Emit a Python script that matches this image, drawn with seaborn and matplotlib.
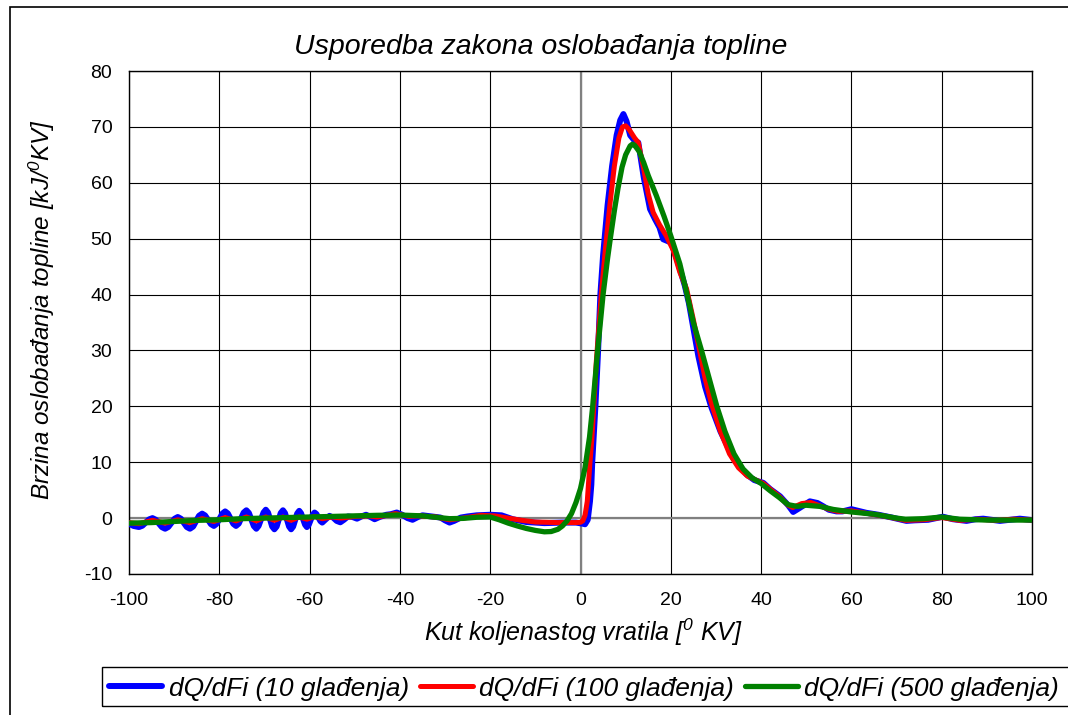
"""
Usporedba zakona oslobadjanja topline za tri razine gladjenja.
"""

import matplotlib

matplotlib.use("Agg")

import matplotlib.pyplot as plt
import pandas as pd
import seaborn as sns
from matplotlib.patches import Rectangle

# dQ/dFi, 10 gladjenja (plava)
kut_10 = [
    -100.0, -99.0, -97.8, -97.05, -96.3, -95.55, -94.8, -94.1, -93.4, -92.7,
    -92.0, -91.3, -90.6, -89.9, -89.2, -88.5, -87.85, -87.2, -86.5, -85.8,
    -85.15, -84.5, -83.8, -83.15, -82.5, -81.85, -81.2, -80.6, -79.95, -79.3,
    -78.7, -78.1, -77.5, -76.9, -76.3, -75.7, -75.15, -74.6, -74.0, -73.45,
    -72.9, -72.35, -71.8, -71.3, -70.75, -70.2, -69.7, -69.2, -68.75, -68.3,
    -67.8, -67.3, -66.85, -66.4, -65.9, -65.45, -65.0, -64.55, -64.1, -63.65,
    -63.2, -62.75, -62.3, -61.9, -61.45, -61.0, -60.6, -60.2, -59.75, -59.3,
    -58.9, -58.5, -58.05, -57.6, -57.2, -56.4, -55.6, -54.8, -54.0, -53.2,
    -52.4, -51.5, -50.5, -49.5, -48.5, -47.5, -46.5, -45.6, -44.5, -43.0,
    -42.0, -40.7, -39.5, -38.3, -37.2, -36.0, -35.0, -33.0, -31.0, -30.0,
    -29.0, -28.0, -26.5, -25.0, -23.0, -20.0, -17.5, -15.0, -12.0, -8.0,
    -4.0, -1.0, 0.5, 1.0, 1.6, 2.1, 2.4, 2.6, 3.3, 3.9,
    4.4, 5.0, 6.0, 7.0, 8.0, 8.8, 9.5, 10.2, 11.0, 12.0,
    12.8, 14.0, 15.4, 16.5, 17.5, 18.3, 20.1, 21.5, 23.1, 24.0,
    25.0, 26.1, 27.6, 29.0, 31.0, 33.8, 36.8, 38.5, 40.5, 42.0,
    44.2, 46.0, 47.1, 48.5, 50.8, 52.5, 53.8, 55.0, 56.7, 58.0,
    60.0, 61.5, 63.3, 66.0, 69.0, 72.2, 74.0, 77.0, 80.3, 82.5,
    85.5, 87.5, 89.2, 91.0, 92.9, 95.0, 97.3, 100.0,
]
dq_10 = [
    -1.0, -1.4, -1.6, -1.37, -0.8, -0.23, 0.0, -0.28, -0.95, -1.62,
    -1.9, -1.59, -0.85, -0.11, 0.2, -0.11, -0.85, -1.59, -1.9, -1.51,
    -0.55, 0.41, 0.8, 0.48, -0.3, -1.08, -1.4, -1.02, -0.1, 0.82,
    1.2, 0.82, -0.1, -1.02, -1.4, -0.99, 0.0, 0.99, 1.4, 0.92,
    -0.25, -1.42, -1.9, -1.4, -0.2, 1.0, 1.5, 0.99, -0.25, -1.49,
    -2.0, -1.5, -0.3, 0.9, 1.4, 0.9, -0.3, -1.5, -2.0, -1.52,
    -0.35, 0.82, 1.3, 0.88, -0.15, -1.18, -1.6, -1.22, -0.3, 0.62,
    1.0, 0.74, 0.1, -0.54, -0.8, -0.2, 0.4, 0.1, -0.5, -0.75,
    -0.3, 0.3, 0.2, -0.1, 0.3, 0.6, 0.2, -0.2, 0.2, 0.6,
    0.7, 1.0, 0.6, 0.0, -0.3, 0.2, 0.5, 0.3, 0.1, -0.4,
    -0.8, -0.5, 0.1, 0.3, 0.5, 0.6, 0.5, -0.2, -0.7, -0.9,
    -0.8, -0.8, -1.0, -1.1, -0.3, 3.0, 6.0, 10.0, 20.0, 30.0,
    40.0, 47.0, 56.0, 63.0, 68.5, 71.2, 72.3, 71.0, 68.5, 67.5,
    67.2, 61.0, 55.3, 53.5, 52.0, 49.9, 49.3, 46.0, 41.6, 38.5,
    34.0, 29.0, 23.5, 19.8, 15.5, 10.8, 7.8, 6.8, 6.3, 5.2,
    3.9, 2.3, 1.1, 1.8, 3.0, 2.7, 2.1, 1.5, 1.2, 1.2,
    1.6, 1.3, 0.95, 0.6, 0.1, -0.5, -0.4, -0.3, 0.25, -0.2,
    -0.5, -0.2, -0.1, -0.3, -0.5, -0.3, -0.1, -0.35,
]

# dQ/dFi, 100 gladjenja (crvena)
kut_100 = [
    -100.0, -97.8, -94.8, -92.0, -89.2, -86.5, -83.8, -81.2, -78.7, -76.3,
    -74.0, -71.8, -69.7, -67.8, -65.9, -64.1, -62.3, -60.6, -58.9, -57.2,
    -55.0, -53.0, -50.0, -47.0, -45.0, -41.0, -38.0, -36.0, -32.0, -29.0,
    -26.0, -22.0, -19.0, -16.0, -13.0, -10.0, -5.0, -1.0, 0.0, 0.5,
    1.0, 1.5, 2.1, 2.5, 2.95, 3.5, 4.6, 5.5, 6.5, 7.5,
    8.5, 9.3, 10.0, 10.8, 12.0, 12.8, 14.0, 15.0, 16.1, 17.5,
    19.0, 20.5, 22.0, 23.5, 25.0, 26.0, 27.6, 29.0, 31.0, 33.0,
    35.0, 37.0, 40.5, 42.0, 44.0, 46.0, 47.0, 49.0, 51.0, 53.0,
    55.0, 57.0, 60.0, 63.0, 67.0, 72.0, 76.0, 80.0, 84.0, 88.0,
    92.0, 96.0, 100.0,
]
dq_100 = [
    -0.8, -1.0, -0.4, -0.9, -0.3, -0.8, -0.1, -0.6, 0.1, -0.5,
    0.2, -0.5, 0.2, -0.4, 0.2, -0.4, 0.2, -0.2, 0.3, -0.1,
    0.2, 0.0, 0.3, 0.4, 0.2, 0.8, 0.3, 0.4, 0.2, -0.3,
    0.0, 0.5, 0.4, 0.0, -0.4, -0.7, -0.8, -0.8, -0.75, -0.5,
    0.5, 3.0, 10.0, 14.0, 20.0, 28.0, 40.0, 48.0, 56.0, 63.0,
    68.0, 70.0, 70.2, 69.5, 68.0, 67.2, 62.5, 58.0, 54.7, 52.5,
    50.5, 48.0, 44.0, 41.0, 35.5, 31.5, 25.0, 20.5, 15.5, 11.5,
    9.0, 7.5, 6.2, 5.2, 3.9, 2.3, 1.9, 2.6, 2.8, 2.2,
    1.6, 1.2, 1.3, 0.9, 0.4, -0.4, -0.3, 0.1, -0.4, -0.2,
    -0.4, -0.2, -0.35,
]

# dQ/dFi, 500 gladjenja (zelena)
kut_500 = [
    -100.0, -95.0, -90.0, -85.0, -80.0, -75.0, -70.0, -65.0, -60.0, -55.0,
    -50.0, -45.0, -40.0, -35.0, -32.0, -29.0, -26.0, -23.0, -20.0, -18.0,
    -16.0, -14.0, -12.0, -10.0, -8.0, -6.5, -5.0, -4.0, -3.0, -2.0,
    -1.0, 0.0, 1.0, 2.0, 2.7, 3.8, 5.0, 6.0, 6.6, 7.5,
    8.3, 9.2, 10.0, 11.0, 11.5, 12.0, 13.0, 14.0, 15.0, 16.8,
    18.5, 20.0, 22.0, 23.6, 25.0, 26.8, 28.5, 30.2, 32.0, 34.0,
    36.0, 38.0, 40.0, 42.0, 44.0, 46.0, 48.0, 50.0, 53.0, 56.0,
    60.0, 65.0, 70.0, 72.0, 76.0, 80.0, 84.0, 90.0, 100.0,
]
dq_500 = [
    -0.9, -0.8, -0.6, -0.4, -0.3, -0.1, 0.0, 0.1, 0.2, 0.3,
    0.4, 0.5, 0.55, 0.4, 0.15, -0.1, -0.05, 0.15, 0.2, -0.3,
    -0.9, -1.4, -1.85, -2.2, -2.45, -2.4, -2.0, -1.4, -0.5, 0.8,
    2.8, 5.3, 9.0, 14.5, 20.0, 30.0, 40.0, 46.5, 50.0, 55.0,
    59.0, 62.8, 65.0, 66.6, 66.9, 66.7, 65.6, 63.6, 61.3, 57.7,
    54.0, 50.5, 45.5, 40.0, 35.0, 30.0, 25.0, 20.0, 15.5, 11.5,
    8.8, 7.2, 6.2, 4.9, 3.7, 2.4, 2.1, 2.3, 2.1, 1.55,
    1.1, 0.7, 0.0, -0.2, -0.1, 0.2, -0.2, -0.35, -0.35,
]

nazivi = [
    "dQ/dFi (10 glađenja)",
    "dQ/dFi (100 glađenja)",
    "dQ/dFi (500 glađenja)",
]
boje = ["#0000FF", "#FF0000", "#008000"]
debljine = [4.3, 3.6, 3.8]

x_ticks = list(range(-100, 101, 20))
y_ticks = list(range(-10, 81, 10))

W, H = 1068, 715


def main() -> None:
    assert len(kut_10) == len(dq_10)
    assert len(kut_100) == len(dq_100)
    assert len(kut_500) == len(dq_500)

    sns.set_theme(style="white")
    plt.rcParams["font.family"] = ["Liberation Sans", "DejaVu Sans"]
    plt.rcParams["mathtext.fontset"] = "custom"
    plt.rcParams["mathtext.rm"] = "Liberation Sans:italic"
    plt.rcParams["mathtext.it"] = "Liberation Sans:italic"
    plt.rcParams["mathtext.sf"] = "Liberation Sans:italic"
    plt.rcParams["axes.unicode_minus"] = False
    plt.rcParams["text.color"] = "black"

    fig = plt.figure(figsize=(W / 100, H / 100), dpi=100)
    fig.patch.set_facecolor("white")
    ax = fig.add_axes([129 / W, 1 - 574 / H, 903 / W, 503 / H])

    serije = [(kut_10, dq_10), (kut_100, dq_100), (kut_500, dq_500)]
    for (kut, dq), naziv, boja, lw in zip(serije, nazivi, boje, debljine):
        df = pd.DataFrame({"kut": kut, "dq": dq})
        sns.lineplot(data=df, x="kut", y="dq", color=boja, linewidth=lw,
                     sort=False, estimator=None, label=naziv, legend=False,
                     ax=ax, zorder=3)

    ax.set_xlim(-100, 100)
    ax.set_ylim(-10, 80)
    ax.set_xticks(x_ticks)
    ax.set_yticks(y_ticks)
    ax.set_axisbelow(True)
    ax.grid(True, color="black", linewidth=0.8)
    ax.axhline(0, color="#808080", linewidth=1.6, zorder=2)
    ax.axvline(0, color="#808080", linewidth=1.6, zorder=2)
    ax.tick_params(axis="both", length=0, labelsize=14, colors="black")
    ax.tick_params(axis="x", pad=13)
    ax.tick_params(axis="y", pad=12)
    for sp in ax.spines.values():
        sp.set_color("black")
        sp.set_linewidth(1.0)
    ax.set_xlabel("")
    ax.set_ylabel("")

    fig.text(541 / W, 1 - 47 / H, "Usporedba zakona oslobađanja topline",
             fontsize=20.5, style="italic", ha="center", va="center",
             color="black")
    fig.text(583 / W, 1 - 632 / H, "Kut koljenastog vratila [$^{0}$ KV]",
             fontsize=18, style="italic", ha="center", va="center",
             color="black")
    fig.text(42 / W, 1 - 310 / H, "Brzina oslobađanja topline [kJ/$^{0}$KV]",
             fontsize=17.5, style="italic", ha="center", va="center",
             rotation=90, color="black")

    handles, labels = ax.get_legend_handles_labels()
    leg = fig.legend(handles, labels, loc="lower left",
                     bbox_to_anchor=(104 / W, 1 - 706 / H), ncol=3,
                     prop={"style": "italic", "size": 19}, frameon=False,
                     borderpad=0.2, handlelength=2.0, handletextpad=0.25,
                     columnspacing=0.42, borderaxespad=0)
    for t in leg.get_texts():
        t.set_color("black")

    # okvir legende (izlazi preko desnog ruba slike)
    fig.add_artist(Rectangle((102 / W, 1 - 706 / H), 1.0, 39 / H,
                             transform=fig.transFigure, fill=False,
                             edgecolor="black", linewidth=1.0))
    # okvir podrucja grafikona
    fig.add_artist(Rectangle((10 / W, -0.05), 1.0, (1 - 7 / H) + 0.05,
                             transform=fig.transFigure, fill=False,
                             edgecolor="black", linewidth=1.2))

    fig.savefig("out.png", dpi=100)
    plt.close(fig)


if __name__ == "__main__":
    main()
